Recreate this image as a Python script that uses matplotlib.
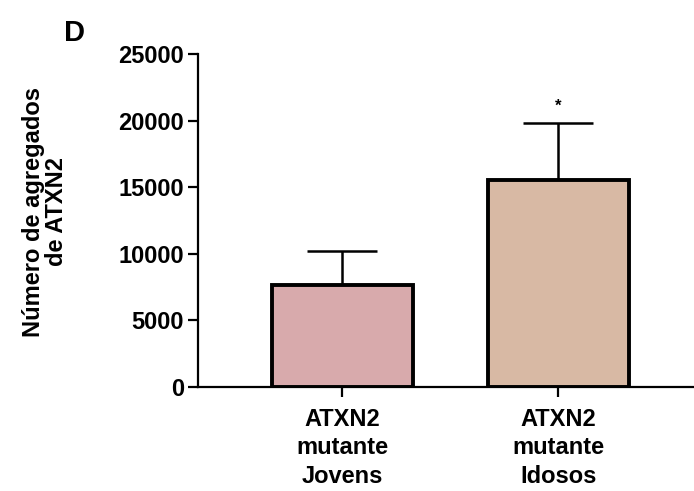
import matplotlib.pyplot as plt

groups = ["ATXN2\nmutante\nJovens", "ATXN2\nmutante\nIdosos"]
means = [7650, 15550]
errors = [2560, 4250]
colors = ["#d8aaac", "#d8b9a4"]
stars = ["", "*"]

plt.rcParams['font.family'] = ['Liberation Sans', 'DejaVu Sans']
plt.rcParams['font.weight'] = 'bold'

W, H = 694, 491
fig = plt.figure(figsize=(W / 100, H / 100), dpi=100)
ax = fig.add_axes([198 / W, 1 - 387 / H, 1 - 198 / W, 333 / H])

x = list(range(len(groups)))
ax.bar(x, means, width=0.655, color=colors, edgecolor="black", linewidth=2.8, zorder=2)
ax.errorbar(x, means, yerr=[[0] * len(errors), errors], fmt="none", ecolor="black",
            elinewidth=1.8, capsize=25.5, capthick=1.8, zorder=1)
for xi, m, e, s in zip(x, means, errors, stars):
    if s:
        ax.text(xi, m + e + 700, s, ha="center", va="bottom", fontsize=12)

ax.set_xlim(-0.67, 1.63)
ax.set_ylim(0, 25000)
ax.set_yticks([0, 5000, 10000, 15000, 20000, 25000])
ax.set_xticks(x)
ax.set_xticklabels(groups, fontsize=17, fontweight="bold", linespacing=1.3)
ax.tick_params(axis="y", labelsize=17, width=1.6, length=7, pad=3)
ax.tick_params(axis="x", width=1.6, length=7, pad=8)
for lbl in ax.get_yticklabels():
    lbl.set_fontweight("bold")

ax.spines["top"].set_visible(False)
ax.spines["right"].set_visible(False)
ax.spines["left"].set_linewidth(1.6)
ax.spines["bottom"].set_linewidth(1.6)

fig.text(45 / W, 1 - 212 / H, "Número de agregados\nde ATXN2", rotation=90,
         fontsize=17, fontweight="bold", ha="center", va="center", linespacing=0.95)
fig.text(75 / W, 1 - 33 / H, "D", fontsize=21, fontweight="bold", ha="center", va="center")

fig.savefig("out.png", dpi=100)
